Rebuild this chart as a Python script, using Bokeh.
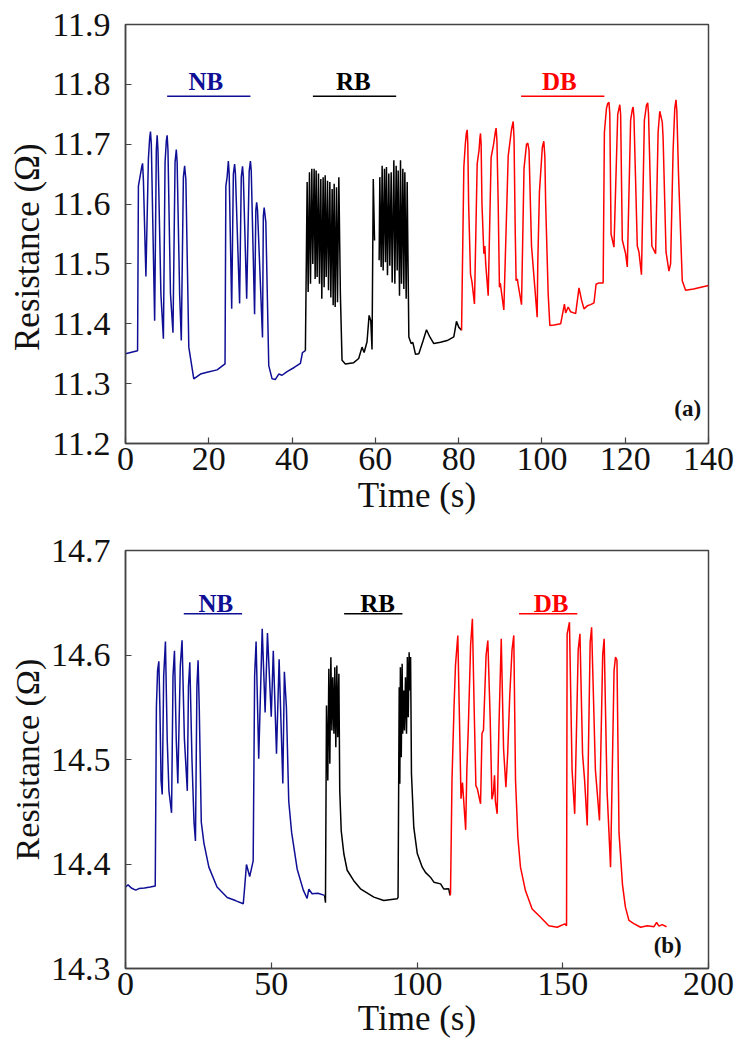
from bokeh.plotting import figure
from bokeh.models import FixedTicker, Range1d, Label, PrintfTickFormatter
from bokeh.layouts import column
from bokeh.embed import file_html
from bokeh.resources import INLINE

NAN = float("nan")

# ---------------- panel (a) data ----------------
a_nb_t = [0, 2.9, 3.1, 3.6, 3.9, 4.1, 4.3, 4.9, 5.5, 5.8, 6.0, 6.2, 7.0, 7.4, 7.6, 7.8, 8.5, 9.1, 9.5, 9.8,
          10.0, 10.2, 10.8, 11.4, 11.9, 12.2, 12.4, 13.0, 13.4, 13.9, 14.2, 14.5, 15.2, 16.4, 18.0, 19.6,
          22.0, 23.9, 24.1, 24.4, 24.7, 24.9, 25.5, 25.9, 26.2, 26.4, 27.4, 27.8, 28.1, 28.3, 29.1, 29.7,
          30.0, 30.2, 31.0, 31.3, 31.5, 31.7, 32.9, 33.1, 33.3, 33.7, 34.4, 35.2, 36.0, 36.8, 37.6, 38.8,
          40.5, 42.0, 42.5, 43.2]
a_nb_r = [11.350, 11.355, 11.630, 11.650, 11.662, 11.668, 11.640, 11.479, 11.676, 11.710, 11.721, 11.700,
          11.405, 11.690, 11.715, 11.690, 11.450, 11.375, 11.670, 11.705, 11.715, 11.690, 11.450, 11.385,
          11.670, 11.691, 11.670, 11.450, 11.372, 11.645, 11.664, 11.640, 11.361, 11.308, 11.316, 11.319,
          11.323, 11.333, 11.630, 11.645, 11.672, 11.650, 11.425, 11.650, 11.667, 11.650, 11.434, 11.645,
          11.663, 11.645, 11.442, 11.655, 11.672, 11.655, 11.416, 11.590, 11.603, 11.590, 11.377, 11.580,
          11.594, 11.570, 11.330, 11.308, 11.307, 11.316, 11.314, 11.320, 11.327, 11.334, 11.352, 11.355]

a_rb_t = [43.2, 43.62, 43.86, 44.18, 44.42, 44.74, 44.98, 45.30, 45.54, 45.78, 46.02, 46.34, 46.58, 46.90,
          47.14, 47.46, 47.70, 47.95, 48.19, 48.51, 48.75, 49.07, 49.31, 49.63, 49.87, 50.11, 50.35, 50.67,
          50.91, 51.23, 51.6, 52.0, 52.8, 54.8, 56.0, 56.8, 57.3, 58.0, 58.5, 58.9, 59.2, 59.5, 59.8, NAN,
          60.91, 61.07, 61.39, 61.63, 61.87, 62.19, 62.43, 62.67, 62.91, 63.23, 63.47, 63.80, 64.04, 64.44,
          64.68, 65.00, 65.24, 65.48, 65.80, 66.04, 66.28, 66.60, 66.84, 67.08, 67.40, 67.64, 68.04, 68.60,
          69.0, 69.64, 70.44, 71.48, 72.28, 73.08, 74.04, 75.64, 77.24, 78.84, 79.48, 80.05, 80.7]
a_rb_r = [11.355, 11.637, 11.453, 11.653, 11.467, 11.659, 11.500, 11.659, 11.475, 11.656, 11.478, 11.651,
          11.467, 11.642, 11.442, 11.645, 11.461, 11.648, 11.478, 11.639, 11.456, 11.637, 11.444, 11.625,
          11.431, 11.634, 11.428, 11.628, 11.436, 11.645, 11.450, 11.339, 11.333, 11.335, 11.342, 11.361,
          11.352, 11.370, 11.414, 11.405, 11.357, 11.642, 11.539, NAN,
          11.506, 11.645, 11.495, 11.664, 11.489, 11.659, 11.503, 11.662, 11.481, 11.651, 11.497, 11.653,
          11.469, 11.673, 11.467, 11.664, 11.489, 11.656, 11.447, 11.673, 11.467, 11.659, 11.458, 11.653,
          11.442, 11.637, 11.378, 11.367, 11.369, 11.349, 11.350, 11.372, 11.390, 11.378, 11.367, 11.369,
          11.372, 11.378, 11.404, 11.394, 11.389]

a_db_t = [80.7, 81.25, 81.6, 81.85, 82.05, 82.2, 82.4, 82.85, 83.2, 83.8, 84.45, 84.9, 85.1, 85.25, 85.4,
          85.6, 86.05, 86.3, 86.5, 87.1, 87.8, 88.4, 88.8, 89.0, 89.2, 89.5, 89.8, 90.0, 90.85, 91.9, 92.7,
          93.1, 93.3, 93.6, 93.8, 94.1, 94.3, 95.1, 95.7, 96.3, 96.6, 96.9, 97.5, 98.3, 98.86, 99.0, 99.4,
          100.1, 100.45, 100.7, 100.9, 101.5, 101.9, 102.9, 104.5, 105.1, 105.4, 105.7, 106.3, 106.9,
          108.1, 108.9, 109.5, 110.1, 110.9, 111.7, 112.5, 113.0, 113.6, 114.7, 115.0, 115.5, 115.8, 116.1,
          116.3, 116.6, 117.3, 118.2, 118.7, 118.9, 119.3, 120.1, 120.5, 121.3, 121.7, 121.9, 122.1, 122.9,
          123.3, 123.9, 124.6, 125.1, 125.4, 125.6, 126.4, 127.3, 127.9, 128.3, 128.9, 129.1, 129.8, 130.5,
          130.9, 131.5, 131.9, 132.2, 132.4, 132.8, 133.7, 134.5, 136.4, 140.0]
a_db_r = [11.389, 11.662, 11.700, 11.718, 11.724, 11.700, 11.600, 11.483, 11.470, 11.433, 11.667, 11.690,
          11.710, 11.718, 11.700, 11.600, 11.517, 11.530, 11.500, 11.447, 11.678, 11.700, 11.720, 11.727,
          11.705, 11.600, 11.461, 11.468, 11.423, 11.680, 11.725, 11.738, 11.710, 11.550, 11.472, 11.475,
          11.465, 11.432, 11.660, 11.700, 11.702, 11.690, 11.530, 11.460, 11.411, 11.500, 11.620, 11.695,
          11.705, 11.680, 11.600, 11.450, 11.397, 11.398, 11.400, 11.422, 11.433, 11.418, 11.428, 11.420,
          11.417, 11.460, 11.440, 11.425, 11.430, 11.432, 11.435, 11.466, 11.468, 11.468, 11.720, 11.760,
          11.768, 11.770, 11.750, 11.550, 11.528, 11.750, 11.766, 11.750, 11.540, 11.517, 11.495, 11.740,
          11.758, 11.762, 11.745, 11.530, 11.520, 11.482, 11.740, 11.765, 11.769, 11.750, 11.530, 11.517,
          11.720, 11.755, 11.737, 11.710, 11.520, 11.488, 11.500, 11.690, 11.760, 11.774, 11.755, 11.650,
          11.472, 11.456, 11.458, 11.464]

a_xticks = [0, 20, 40, 60, 80, 100, 120, 140]
a_yticks = [11.2, 11.3, 11.4, 11.5, 11.6, 11.7, 11.8, 11.9]

# ---------------- panel (b) data ----------------
b_nb_t = [0, 0.9, 2.0, 3.5, 4.6, 6.5, 8.5, 10.2, 10.6, 11.0, 11.43, 11.8, 12.2, 12.6, 13.1, 13.7, 14.3, 14.9,
          15.8, 16.3, 16.8, 17.4, 17.95, 18.8, 19.4, 20.2, 21.2, 21.6, 22.06, 22.8, 23.5, 24.0, 24.5, 24.9,
          25.3, 26.0, 26.9, 28.6, 31.4, 34.9, 37.7, 40.4, 40.8, 41.5, 42.6, 43.8, 44.3, 44.8, 45.7, 46.9,
          47.9, 48.7, 50.0, 50.7, 51.8, 52.7, 53.97, 54.5, 55.2, 56.0, 57.0, 58.9, 61.0, 62.3, 62.9, 64.0,
          66.0, 68.3]
b_nb_r = [14.378, 14.380, 14.377, 14.375, 14.3765, 14.377, 14.378, 14.379, 14.550, 14.585, 14.594, 14.550,
          14.480, 14.4665, 14.580, 14.613, 14.520, 14.470, 14.449, 14.580, 14.604, 14.520, 14.477, 14.590,
          14.614, 14.520, 14.470, 14.570, 14.593, 14.500, 14.440, 14.422, 14.570, 14.595, 14.550, 14.440,
          14.420, 14.397, 14.378, 14.368, 14.365, 14.362, 14.375, 14.3995, 14.388, 14.403, 14.580, 14.613,
          14.5007, 14.625, 14.545, 14.621, 14.541, 14.604, 14.5055, 14.596, 14.477, 14.584, 14.550, 14.460,
          14.430, 14.395, 14.375, 14.367, 14.376, 14.3715, 14.372, 14.370]

b_rb_t = [68.3, 68.6, 68.95, 69.4, 69.76, 70.1, 70.45, 70.8, 71.1, 71.5, 71.8, 72.15, 72.5, 72.8, 73.2, 73.5,
          74.0, 74.9, 76.05, 78.3, 80.6, 85.2, 88.6, 93.2, 93.5, 93.9, 94.1, 94.3, 94.6, 94.9, 95.1, 95.5,
          95.7, 96.05, 96.4, 96.7, 97.0, 97.3, 97.5, 97.8, 98.1, 98.9, 100.1, 101.8, 102.9, 104.6, 105.8,
          108.1, 109.2, 110.9, 111.3]
b_rb_r = [14.370, 14.363, 14.5517, 14.480, 14.5868, 14.4959, 14.5979, 14.5278, 14.5788, 14.5246, 14.5883,
          14.5118, 14.590, 14.5213, 14.582, 14.4703, 14.432, 14.4098, 14.394, 14.384, 14.3763, 14.3683,
          14.365, 14.3667, 14.368, 14.5692, 14.4767, 14.5883, 14.5022, 14.5916, 14.5246, 14.566, 14.5278,
          14.5788, 14.5246, 14.598, 14.5405, 14.6027, 14.566, 14.598, 14.4863, 14.435, 14.410, 14.397,
          14.392, 14.3874, 14.3826, 14.381, 14.376, 14.3763, 14.370]

b_db_t = [111.3, 111.5, 112.0, 112.7, 113.2, 114.0, 114.7, 115.1, 115.6, 116.7, 117.1, 117.6, 118.4, 119.0,
          119.6, 120.2, 120.7, 121.8, 122.3, 122.8, 123.7, 124.3, 125.1, 125.7, 126.2, 126.6, 126.9, 127.5,
          128.1, 128.9, 129.7, 130.5, 131.1, 131.8, 132.6, 133.2, 133.8, 134.6, 135.5, 137.2, 139.5, 142.4,
          145.2, 148.1, 150.7, 151.3, 151.5, 152.3, 153.2, 154.1, 155.3, 155.9, 156.8, 157.5, 158.4, 159.4,
          159.9, 161.2, 162.6, 163.7, 164.2, 165.2, 166.4, 167.6, 168.1, 168.6, 169.3, 170.5, 171.5, 172.7,
          174.4, 176.7, 179.0, 181.3, 182.2, 183.0, 184.1, 185.6]
b_db_r = [14.370, 14.3715, 14.480, 14.550, 14.590, 14.6187, 14.520, 14.4624, 14.478, 14.4327, 14.490,
          14.530, 14.610, 14.6346, 14.550, 14.475, 14.472, 14.4576, 14.525, 14.528, 14.600, 14.6139, 14.540,
          14.462, 14.468, 14.485, 14.460, 14.448, 14.530, 14.6155, 14.510, 14.4735, 14.505, 14.560, 14.605,
          14.6187, 14.480, 14.4256, 14.397, 14.3746, 14.357, 14.349, 14.341, 14.3395, 14.3427, 14.341,
          14.620, 14.6314, 14.490, 14.448, 14.605, 14.6203, 14.505, 14.480, 14.4368, 14.612, 14.6266, 14.490,
          14.4416, 14.600, 14.6155, 14.470, 14.397, 14.585, 14.598, 14.595, 14.430, 14.380, 14.3587, 14.346,
          14.343, 14.3395, 14.341, 14.340, 14.344, 14.3405, 14.342, 14.340]

b_xticks = [0, 50, 100, 150, 200]
b_yticks = [14.3, 14.4, 14.5, 14.6, 14.7]

# group tags: name, underline start/end, text centre
tag_names = ["NB", "RB", "DB"]
a_tag_x0 = [10, 45, 95]
a_tag_x1 = [30, 65, 115]
a_tag_xc = [19.3, 54.7, 104.2]
b_tag_x0 = [20, 75, 135]
b_tag_x1 = [40, 95, 155]
b_tag_xc = [31.0, 86.5, 146.0]

BLUE = "#0f0f96"
BLACK = "#000000"
RED = "#ff0000"
COLORS = [BLUE, BLACK, RED]
SERIF = "Liberation Serif"
AXC = "#444444"


def make_panel(xr, yr, xticks, yticks, height, top, bottom, series, ylabel, ylabel_size, xlab_standoff,
               tag_x0, tag_x1, tag_xc, tag_line_y, tag_text_y, panel_label, pl_x, pl_y):
    p = figure(width=738, height=height, x_range=Range1d(*xr), y_range=Range1d(*yr),
               output_backend="svg", toolbar_location=None,
               min_border_left=125, min_border_right=30, min_border_top=top,
               min_border_bottom=bottom)
    p.xgrid.visible = False
    p.ygrid.visible = False
    p.outline_line_color = AXC
    p.outline_line_width = 1.5
    p.background_fill_color = "white"
    p.border_fill_color = "white"

    for ax in (p.xaxis[0], p.yaxis[0]):
        ax.axis_line_color = AXC
        ax.axis_line_width = 1.5
        ax.major_tick_line_color = AXC
        ax.major_tick_line_width = 1.2
        ax.major_tick_in = 6
        ax.major_tick_out = 0
        ax.minor_tick_line_color = None
        ax.major_label_text_font = SERIF
        ax.major_label_text_font_size = "34px"
        ax.major_label_text_color = "#111111"
        ax.axis_label_text_font = SERIF
        ax.axis_label_text_font_style = "normal"
        ax.axis_label_text_color = "#111111"

    p.xaxis.ticker = FixedTicker(ticks=xticks)
    p.yaxis.ticker = FixedTicker(ticks=yticks)
    p.xaxis.formatter = PrintfTickFormatter(format="%d")
    p.yaxis.formatter = PrintfTickFormatter(format="%.1f")
    p.xaxis.axis_label = "Time (s)"
    p.yaxis.axis_label = ylabel
    p.xaxis.axis_label_text_font_size = "35px"
    p.yaxis.axis_label_text_font_size = ylabel_size
    p.xaxis.major_label_standoff = 4
    p.yaxis.major_label_standoff = 15
    p.xaxis.axis_label_standoff = xlab_standoff
    p.yaxis.axis_label_standoff = 2

    for (t, r), c in zip(series, COLORS):
        p.line(t, r, line_color=c, line_width=1.5)

    for name, x0, x1, xc, c in zip(tag_names, tag_x0, tag_x1, tag_xc, COLORS):
        p.segment(x0=[x0], y0=[tag_line_y], x1=[x1], y1=[tag_line_y], line_color=c, line_width=1.5)
        p.add_layout(Label(x=xc, y=tag_text_y, text=name, text_align="center",
                           text_baseline="middle", text_font=SERIF, text_font_style="bold",
                           text_font_size="25px", text_color=c))

    p.add_layout(Label(x=pl_x, y=pl_y, text=panel_label, text_align="center",
                       text_baseline="middle", text_font=SERIF, text_font_style="bold",
                       text_font_size="23px", text_color="#111111"))
    return p


pa = make_panel((0, 140), (11.2, 11.9), a_xticks, a_yticks, 531, 24, 88,
                [(a_nb_t, a_nb_r), (a_rb_t, a_rb_r), (a_db_t, a_db_r)],
                "Resistance (Ω)\u00a0\u00a0\u00a0", "35px", 3,
                a_tag_x0, a_tag_x1, a_tag_xc, 11.780, 11.804, "(a)", 135.0, 11.259)
pb = make_panel((0, 200), (14.3, 14.7), b_xticks, b_yticks, 519, 19, 82,
                [(b_nb_t, b_nb_r), (b_rb_t, b_rb_r), (b_db_t, b_db_r)],
                "Resistance (Ω)", "34px", 1,
                b_tag_x0, b_tag_x1, b_tag_xc, 14.6395, 14.649, "(b)", 186.0, 14.322)

layout = column(pa, pb)
open("out.html", "w").write(file_html(layout, INLINE))
